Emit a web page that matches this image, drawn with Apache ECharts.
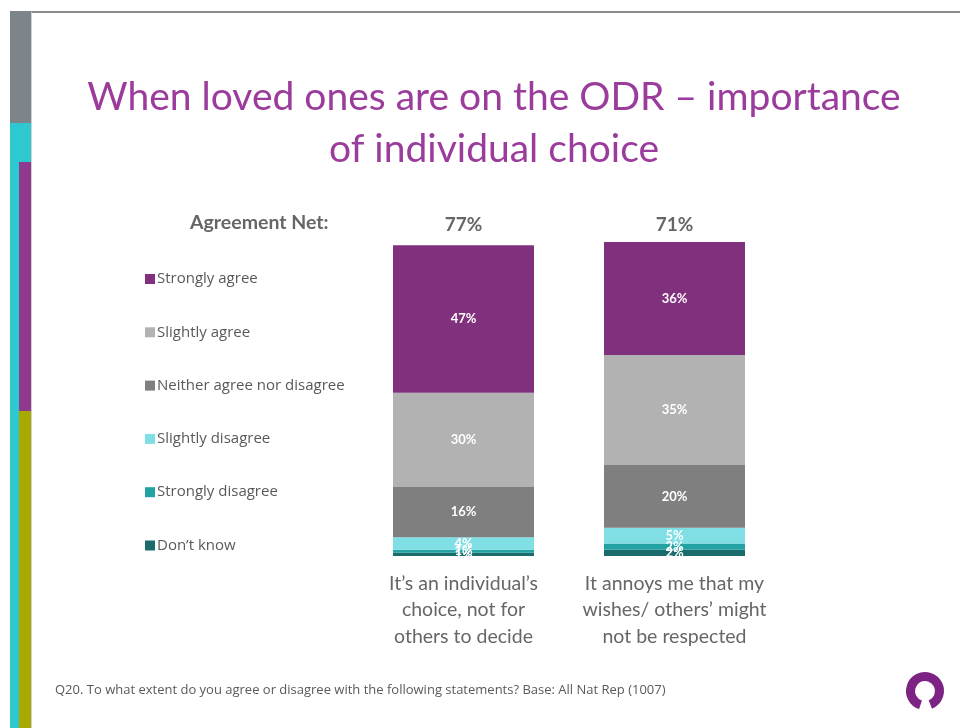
<!DOCTYPE html>
<html>
<head>
<meta charset="utf-8">
<script src="https://cdn.jsdelivr.net/npm/echarts@6/dist/echarts.min.js"></script>
<style>
  html, body { margin: 0; padding: 0; background: #ffffff; }
  #chart { width: 960px; height: 728px; }
</style>
</head>
<body>
<div id="chart"></div>
<script>
// Statements asked about
const statements = [
  'It\u2019s an individual\u2019s\nchoice, not for\nothers to decide',
  'It annoys me that my\nwishes/ others\u2019 might\nnot be respected'
];

// Net agreement shown above each bar
const netAgreement = [77, 71];

// Response shares (%) per statement
const stronglyAgree    = [47, 36];
const slightlyAgree    = [30, 35];
const neitherAgree     = [16, 20];
const slightlyDisagree = [4, 5];
const stronglyDisagree = [1, 2];
const dontKnow         = [1, 2];

const seriesNames = [
  'Strongly agree',
  'Slightly agree',
  'Neither agree nor disagree',
  'Slightly disagree',
  'Strongly disagree',
  'Don\u2019t know'
];

const palette = {
  'Strongly agree': '#80307c',
  'Slightly agree': '#b2b2b2',
  'Neither agree nor disagree': '#7f7f7f',
  'Slightly disagree': '#7fdfe5',
  'Strongly disagree': '#22a2a3',
  'Don\u2019t know': '#1b6b6c'
};

const valuesByName = {
  'Strongly agree': stronglyAgree,
  'Slightly agree': slightlyAgree,
  'Neither agree nor disagree': neitherAgree,
  'Slightly disagree': slightlyDisagree,
  'Strongly disagree': stronglyDisagree,
  'Don\u2019t know': dontKnow
};

const FONT = 'Lato, "Open Sans", sans-serif';
const SMALL_FONT = '"Open Sans", Lato, sans-serif';
const TEXT_GREY = '#666666';

// Stack from the bottom up: "Don't know" first, "Strongly agree" on top
const stackOrder = seriesNames.slice().reverse();
const series = stackOrder.map(name => ({
  name: name,
  type: 'bar',
  stack: 'total',
  barWidth: 141,
  xAxisIndex: 0,
  itemStyle: { color: palette[name] },
  label: {
    show: true,
    position: 'inside',
    formatter: '{c}%',
    color: '#ffffff',
    fontFamily: FONT,
    fontWeight: 'bold',
    fontSize: 13
  },
  emphasis: { disabled: true },
  data: valuesByName[name]
}));

const chart = echarts.init(document.getElementById('chart'), null, { renderer: 'canvas' });

chart.setOption({
  backgroundColor: '#ffffff',
  animation: false,
  title: {
    text: 'When loved ones are on the ODR \u2013 importance\nof individual choice',
    left: 489,
    top: 66,
    textAlign: 'center',
    textStyle: {
      fontFamily: FONT,
      fontWeight: 'normal',
      fontSize: 39,
      lineHeight: 52,
      color: '#9b3b9b'
    }
  },
  legend: {
    data: seriesNames,
    orient: 'vertical',
    left: 140,
    top: 264,
    icon: 'rect',
    itemWidth: 10,
    itemHeight: 10,
    itemGap: 33.3,
    selectedMode: false,
    textStyle: {
      fontFamily: SMALL_FONT,
      fontSize: 15,
      lineHeight: 20,
      color: '#595959',
      padding: [0, 0, 0, -3]
    }
  },
  grid: {
    left: 358,
    right: 180,
    top: 242,
    bottom: 172
  },
  xAxis: [
    {
      type: 'category',
      data: statements,
      axisLine: { show: false },
      axisTick: { show: false },
      axisLabel: {
        interval: 0,
        margin: 14,
        fontFamily: FONT,
        fontSize: 19.5,
        lineHeight: 26.5,
        color: TEXT_GREY,
        align: 'center'
      }
    },
    {
      type: 'category',
      position: 'top',
      data: netAgreement.map(v => v + '%'),
      axisLine: { show: false },
      axisTick: { show: false },
      axisLabel: {
        interval: 0,
        margin: 8,
        fontFamily: FONT,
        fontSize: 19,
        fontWeight: 'bold',
        color: TEXT_GREY
      }
    }
  ],
  yAxis: {
    type: 'value',
    min: 0,
    max: 100,
    show: false
  },
  series: series,
  graphic: [
    // side bars of the page frame
    { type: 'rect', shape: { x: 10, y: 11, width: 21, height: 112 }, style: { fill: '#7b858a' }, silent: true },
    { type: 'rect', shape: { x: 10, y: 123, width: 21, height: 605 }, style: { fill: '#2ec8d1' }, silent: true },
    { type: 'rect', shape: { x: 19, y: 162, width: 12, height: 249 }, style: { fill: '#8f3a8f' }, silent: true },
    { type: 'rect', shape: { x: 19, y: 411, width: 12, height: 317 }, style: { fill: '#a8aa00' }, silent: true },
    { type: 'line', shape: { x1: 31, y1: 12, x2: 960, y2: 12 }, style: { stroke: '#8a8a8a', lineWidth: 2 }, silent: true },
    { type: 'line', shape: { x1: 31.5, y1: 12, x2: 31.5, y2: 728 }, style: { stroke: '#d0d0d0', lineWidth: 1 }, silent: true },
    // legend heading
    {
      type: 'text',
      left: 190,
      top: 213,
      style: {
        text: 'Agreement Net:',
        fontFamily: FONT,
        fontSize: 19.5,
        fontWeight: 'bold',
        fill: TEXT_GREY
      },
      silent: true
    },
    // footnote
    {
      type: 'text',
      left: 55,
      top: 684,
      style: {
        text: 'Q20. To what extent do you agree or disagree with the following statements? Base: All Nat Rep (1007)',
        fontFamily: SMALL_FONT,
        fontSize: 13,
        fill: '#595959'
      },
      silent: true
    },
    // logo mark
    {
      type: 'arc',
      shape: { cx: 925, cy: 691, r: 14.5, startAngle: Math.PI * 0.6, endAngle: Math.PI * 2.38, clockwise: true },
      style: { stroke: '#7d2383', lineWidth: 9, fill: null, lineCap: 'butt' },
      silent: true
    }
  ]
});
</script>
</body>
</html>
